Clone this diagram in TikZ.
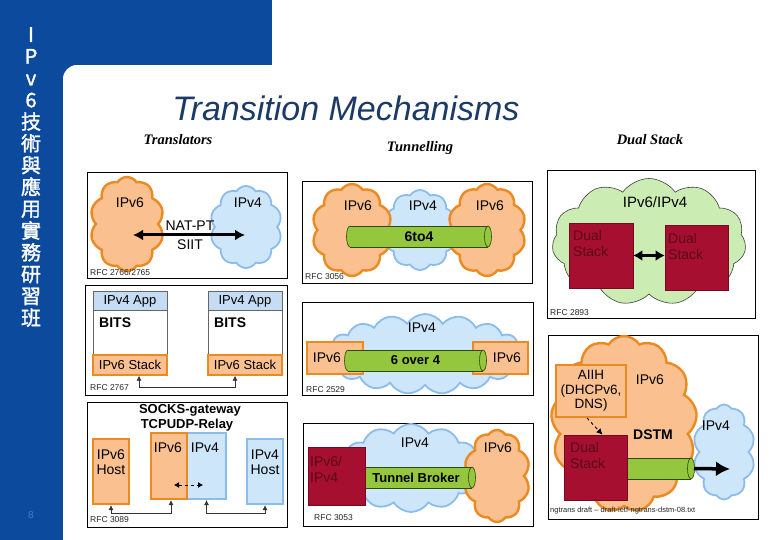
\documentclass[tikz,border=0pt]{standalone}
\usepackage{fontspec}
\setmainfont{Liberation Sans}
\newfontfamily\hdrfont{Liberation Serif}
\newfontfamily\cjkfont[FakeBold=1.5]{Noto Sans CJK TC}
\usetikzlibrary{arrows.meta,shapes.symbols}
\definecolor{barblue}{HTML}{0B4A9C}
\definecolor{pgblue}{HTML}{4D7BC0}
\definecolor{titleblue}{HTML}{1B3A66}
\definecolor{orglight}{HTML}{FAC08F}
\definecolor{orgdark}{HTML}{EC8A22}
\definecolor{blulight}{HTML}{CDE6FA}
\definecolor{bludark}{HTML}{8CBCEB}
\definecolor{tubegreen}{HTML}{94C73D}
\definecolor{tubedark}{HTML}{2E4A0A}
\definecolor{dsgreen}{HTML}{CBEDB3}
\definecolor{dsred}{HTML}{A60F30}
\definecolor{dstext}{HTML}{5A0A18}
\definecolor{appblue}{HTML}{C4DDF4}
\tikzset{
  panel/.style={draw=black,line width=0.7pt,fill=white},
  sixcloud/.style={cloud,cloud puffs=10,cloud puff arc=115,cloud ignores aspect,
                   draw=orgdark,line width=2.4pt,fill=orglight,inner sep=0pt},
  fourcloud/.style={cloud,cloud puffs=10,cloud puff arc=115,cloud ignores aspect,
                    draw=bludark,line width=1.8pt,fill=blulight,inner sep=0pt},
  greencloud/.style={cloud,cloud puffs=11,cloud puff arc=110,cloud ignores aspect,
                     draw=black!75,line width=0.6pt,fill=dsgreen,inner sep=0pt},
  lbl/.style={font=\fontsize{14}{15}\selectfont,inner sep=0pt},
  blbl/.style={font=\bfseries\fontsize{13}{15}\selectfont,inner sep=0pt},
  rfc/.style={font=\fontsize{8.5}{10}\selectfont,anchor=west,inner sep=0pt,text=black!85},
  hdr/.style={font=\hdrfont\bfseries\itshape\fontsize{14.5}{16}\selectfont,inner sep=0pt},
  tube/.style={rectangle,fill=tubegreen,inner sep=0pt,outer sep=0pt,minimum height=21,
               font=\bfseries\fontsize{13}{15}\selectfont},
  tubeline/.style={draw=tubedark,line width=0.6pt},
  dsbox/.style={draw=dsred!70!black,fill=dsred,line width=0.6pt},
  dstxt/.style={text=dstext,anchor=west,align=left,font=\fontsize{14}{16}\selectfont,inner sep=0pt},
  orgbox/.style={draw=orgdark,line width=2.2pt,fill=orglight},
  blubox/.style={draw=bludark,line width=2.2pt,fill=blulight},
  stackbox/.style={draw=black!60,line width=0.8pt,fill=white},
  appband/.style={draw=black!60,line width=0.8pt,fill=appblue,font=\fontsize{13}{15}\selectfont},
  sixband/.style={draw=orgdark,line width=1.4pt,fill=orglight,font=\fontsize{13}{15}\selectfont},
  fatarr/.style={{Latex[length=10pt,width=11pt]}-{Latex[length=10pt,width=11pt]},line width=3pt},
  link/.style={{Latex[length=5pt,width=5pt]}-{Latex[length=5pt,width=5pt]},line width=0.7pt,draw=black!80},
  dlink/.style={{Latex[length=5pt,width=6pt]}-{Latex[length=5pt,width=6pt]},line width=0.8pt,dashed},
  ptarr/.style={-{Latex[length=6pt,width=6pt]},line width=0.9pt,dashed},
  outarr/.style={-{Latex[length=14pt,width=15pt]},line width=3.5pt},
}
% green tunnel: name, x, y, length, text
\newcommand{\greentube}[5]{%
  \filldraw[tubeline,fill=tubegreen] (#2-#4/2,#3) ellipse (3.5 and 10.5);
  \node[tube,minimum width=#4] (#1) at (#2,#3) {#5};
  \draw[tubeline] (#1.north west) -- (#1.north east) (#1.south west) -- (#1.south east);
  \filldraw[tubeline,fill=tubegreen] (#1.east) ellipse (3.5 and 10.5);
}

\begin{document}
\begin{tikzpicture}[x=1pt,y=-1pt]
  \useasboundingbox (0,0) rectangle (780,540);
  % frame of the slide
  \fill[barblue] (0,0) rectangle (272,65);
  \fill[barblue] (0,0) rectangle (63,540);
  \fill[barblue] (63,65) rectangle (77,79);
  \fill[white] (77,79) circle (14);
  \node[font=\cjkfont\fontsize{20}{21.8}\selectfont,text=white,align=center,anchor=north,inner sep=0pt]
    (vtitle) at (31,27) {I\\P\\v\\6\\技\\術\\與\\應\\用\\實\\務\\研\\習\\班};
  \node[text=pgblue,font=\fontsize{10}{12}\selectfont] (pgno) at (31,515) {8};
  \node[font=\itshape\fontsize{34}{36}\selectfont,text=titleblue,inner sep=0pt] (title) at (346,108) {Transition Mechanisms};

  % headers
  \node[hdr] (hdrtr) at (178,140) {Translators};
  \node[hdr] (hdrtu) at (420,148) {Tunnelling};
  \node[hdr] (hdrds) at (650,140) {Dual Stack};

  % translators: NAT-PT
  \node[panel,minimum width=200,minimum height=106] (trpanel) at (187,225) {};
  \node[fourcloud,minimum width=72,minimum height=82] (trfour) at (246,227) {};
  \node[sixcloud,minimum width=74,minimum height=94] (trsix) at (127,224) {};
  \node[lbl] (trsixl) at (130,203) {IPv6};
  \node[lbl] (trfourl) at (248,203) {IPv4};
  \coordinate (tra) at (133,235);
  \coordinate (trb) at (245,235);
  \draw[fatarr] (tra) -- (trb);
  \node[lbl] (natpt) at (190,226) {NAT-PT};
  \node[lbl] (siit) at (190,245) {SIIT};
  \node[rfc] (rfctr) at (90,272) {RFC 2766/2765};

  % translators: BITS
  \node[panel,minimum width=202,minimum height=110] (bitspanel) at (186,340) {};
  \node[stackbox,minimum width=74,minimum height=83] (stka) at (130,333.5) {};
  \node[appband,minimum width=74,minimum height=18] (appa) at (130,301) {IPv4 App};
  \node[sixband,minimum width=74,minimum height=20] (sixa) at (130,365) {IPv6 Stack};
  \node[blbl,font=\bfseries\fontsize{14}{15}\selectfont,anchor=west] (bitsa) at (99,323) {BITS};
  \node[stackbox,minimum width=74,minimum height=83] (stkb) at (245,333.5) {};
  \node[appband,minimum width=74,minimum height=18] (appb) at (245,301) {IPv4 App};
  \node[sixband,minimum width=74,minimum height=20] (sixb) at (245,365) {IPv6 Stack};
  \node[blbl,font=\bfseries\fontsize{14}{15}\selectfont,anchor=west] (bitsb) at (214,323) {BITS};
  \draw[link] ([xshift=9]sixa.south) -- ++(0,12) -| ([xshift=-10]sixb.south);
  \node[rfc] (rfcbits) at (90,388) {RFC 2767};

  % translators: SOCKS
  \node[panel,minimum width=200,minimum height=125] (sockspanel) at (187,464.5) {};
  \node[blbl] (socksa) at (190,410) {SOCKS-gateway};
  \node[blbl] (socksb) at (187,425) {TCPUDP-Relay};
  \node[orgbox,minimum width=36,minimum height=65] (hsix) at (111,471.5) {};
  \node[blubox,minimum width=39,minimum height=66] (gfour) at (206.5,466) {};
  \node[orgbox,minimum width=36,minimum height=66] (gsix) at (169,466) {};
  \node[blubox,minimum width=36,minimum height=65] (hfour) at (265,471.5) {};
  \node[lbl,align=center] (hsixt) at (111,462) {IPv6\\Host};
  \node[lbl,align=center] (hfourt) at (265,462) {IPv4\\Host};
  \node[lbl] (gsixt) at (168,448) {IPv6};
  \node[lbl] (gfourt) at (205,448) {IPv4};
  \coordinate (gxa) at (174,485);
  \coordinate (gxb) at (203,485);
  \draw[dlink] (gxa) -- (gxb);
  \draw[link] (hsix.south) -- ++(0,8) -| ([xshift=2]gsix.south);
  \draw[link] (gfour.south) -- ++(0,13) -| (hfour.south);
  \node[rfc] (rfcsocks) at (90,520) {RFC 3089};

  % tunnelling: 6to4
  \node[panel,minimum width=230,minimum height=102] (tpanel) at (417,232) {};
  \node[fourcloud,minimum width=74,minimum height=80] (tfour) at (420,230) {};
  \node[sixcloud,minimum width=80,minimum height=92] (tsixa) at (352,230) {};
  \node[sixcloud,minimum width=78,minimum height=92] (tsixb) at (487,230) {};
  \node[lbl] (tsixal) at (358,206) {IPv6};
  \node[lbl] (tfourl) at (423,206) {IPv4};
  \node[lbl] (tsixbl) at (490,206) {IPv6};
  \greentube{sixtofour}{419}{236.5}{138}{\fontsize{14}{15}\selectfont 6to4}
  \node[rfc] (rfcsixtofour) at (305,277) {RFC 3056};

  % tunnelling: 6over4
  \node[panel,minimum width=231,minimum height=93] (opanel) at (417.5,348.5) {};
  \node[fourcloud,cloud puffs=17,minimum width=196,minimum height=80] (ofour) at (425,354) {};
  \node[lbl] (ofourl) at (422,328) {IPv4};
  \node[orgbox,line width=2pt,minimum width=56,minimum height=32] (osixa) at (335,358) {};
  \node[orgbox,line width=2pt,minimum width=55,minimum height=32] (osixb) at (500.5,358) {};
  \greentube{sixoverfour}{415.5}{360.5}{135}{6 over 4}
  \node[lbl] (osixal) at (327,358) {IPv6};
  \node[lbl] (osixbl) at (507,358) {IPv6};
  \node[rfc] (rfcsixoverfour) at (306,390) {RFC 2529};

  % tunnelling: tunnel broker
  \node[panel,minimum width=230,minimum height=103] (bpanel) at (418,474.5) {};
  \node[fourcloud,cloud puffs=12,minimum width=140,minimum height=88] (bfour) at (411,468) {};
  \node[sixcloud,minimum width=66,minimum height=92] (bsix) at (497,476) {};
  \node[lbl] (bfourl) at (415,443) {IPv4};
  \node[lbl] (bsixl) at (498,448) {IPv6};
  \greentube{broker}{416}{477.5}{112}{Tunnel Broker}
  \node[dsbox,minimum width=57,minimum height=58] (bds) at (336.5,476) {};
  \node[dstxt] (bdst) at (310,469.5) {IPv6/\\IPv4};
  \node[rfc] (rfcbroker) at (314,518) {RFC 3053};

  % dual stack
  \node[panel,minimum width=208,minimum height=148] (dpanel) at (651,244) {};
  \node[greencloud,minimum width=194,minimum height=127] (dcloud) at (649,242) {};
  \node[lbl,font=\fontsize{15}{16}\selectfont] (dcloudl) at (655,202) {IPv6/IPv4};
  \node[dsbox,minimum width=64,minimum height=65] (dsa) at (601,255.5) {};
  \node[dsbox,minimum width=63,minimum height=65] (dsb) at (696.5,257.5) {};
  \node[dstxt] (dsat) at (573,243.5) {Dual\\Stack};
  \node[dstxt] (dsbt) at (668,246) {Dual\\Stack};
  \draw[fatarr,{Latex[length=9pt,width=11pt]}-{Latex[length=9pt,width=11pt]}] (dsa.east) -- (dsa.east -| dsb.west);
  \node[rfc] (rfcds) at (550,313) {RFC 2893};

  % dual stack: DSTM
  \node[panel,minimum width=210,minimum height=184] (mpanel) at (653,427) {};
  \node[sixcloud,cloud puffs=13,minimum width=146,minimum height=176] (msix) at (624,424) {};
  \node[fourcloud,minimum width=62,minimum height=95] (mfour) at (724,452) {};
  \node[lbl] (msixl) at (650,380) {IPv6};
  \node[lbl] (mfourl) at (716,426) {IPv4};
  \node[orgbox,line width=2pt,minimum width=70,minimum height=52,align=center,
        font=\fontsize{13.5}{14.5}\selectfont,inner sep=0pt] (aiih) at (591,391) {AIIH\\(DHCPv6,\\DNS)};
  \greentube{dstmtube}{657}{468.5}{68}{}
  \node[dsbox,minimum width=63,minimum height=65] (mds) at (595.5,467.5) {};
  \node[dstxt] (mdst) at (570,455) {Dual\\Stack};
  \node[blbl,font=\bfseries\fontsize{14}{15}\selectfont] (dstm) at (653,435) {DSTM};
  \draw[ptarr] ([xshift=-4]aiih.south) -- ([xshift=7]mds.north);
  \coordinate (mout) at (730,469);
  \draw[outarr] ([xshift=3]dstmtube.east) -- (mout);
  \node[rfc,font=\fontsize{7.5}{9}\selectfont] (rfcdstm) at (550,511) {ngtrans draft -- draft-ietf-ngtrans-dstm-08.txt};
\end{tikzpicture}
\end{document}
